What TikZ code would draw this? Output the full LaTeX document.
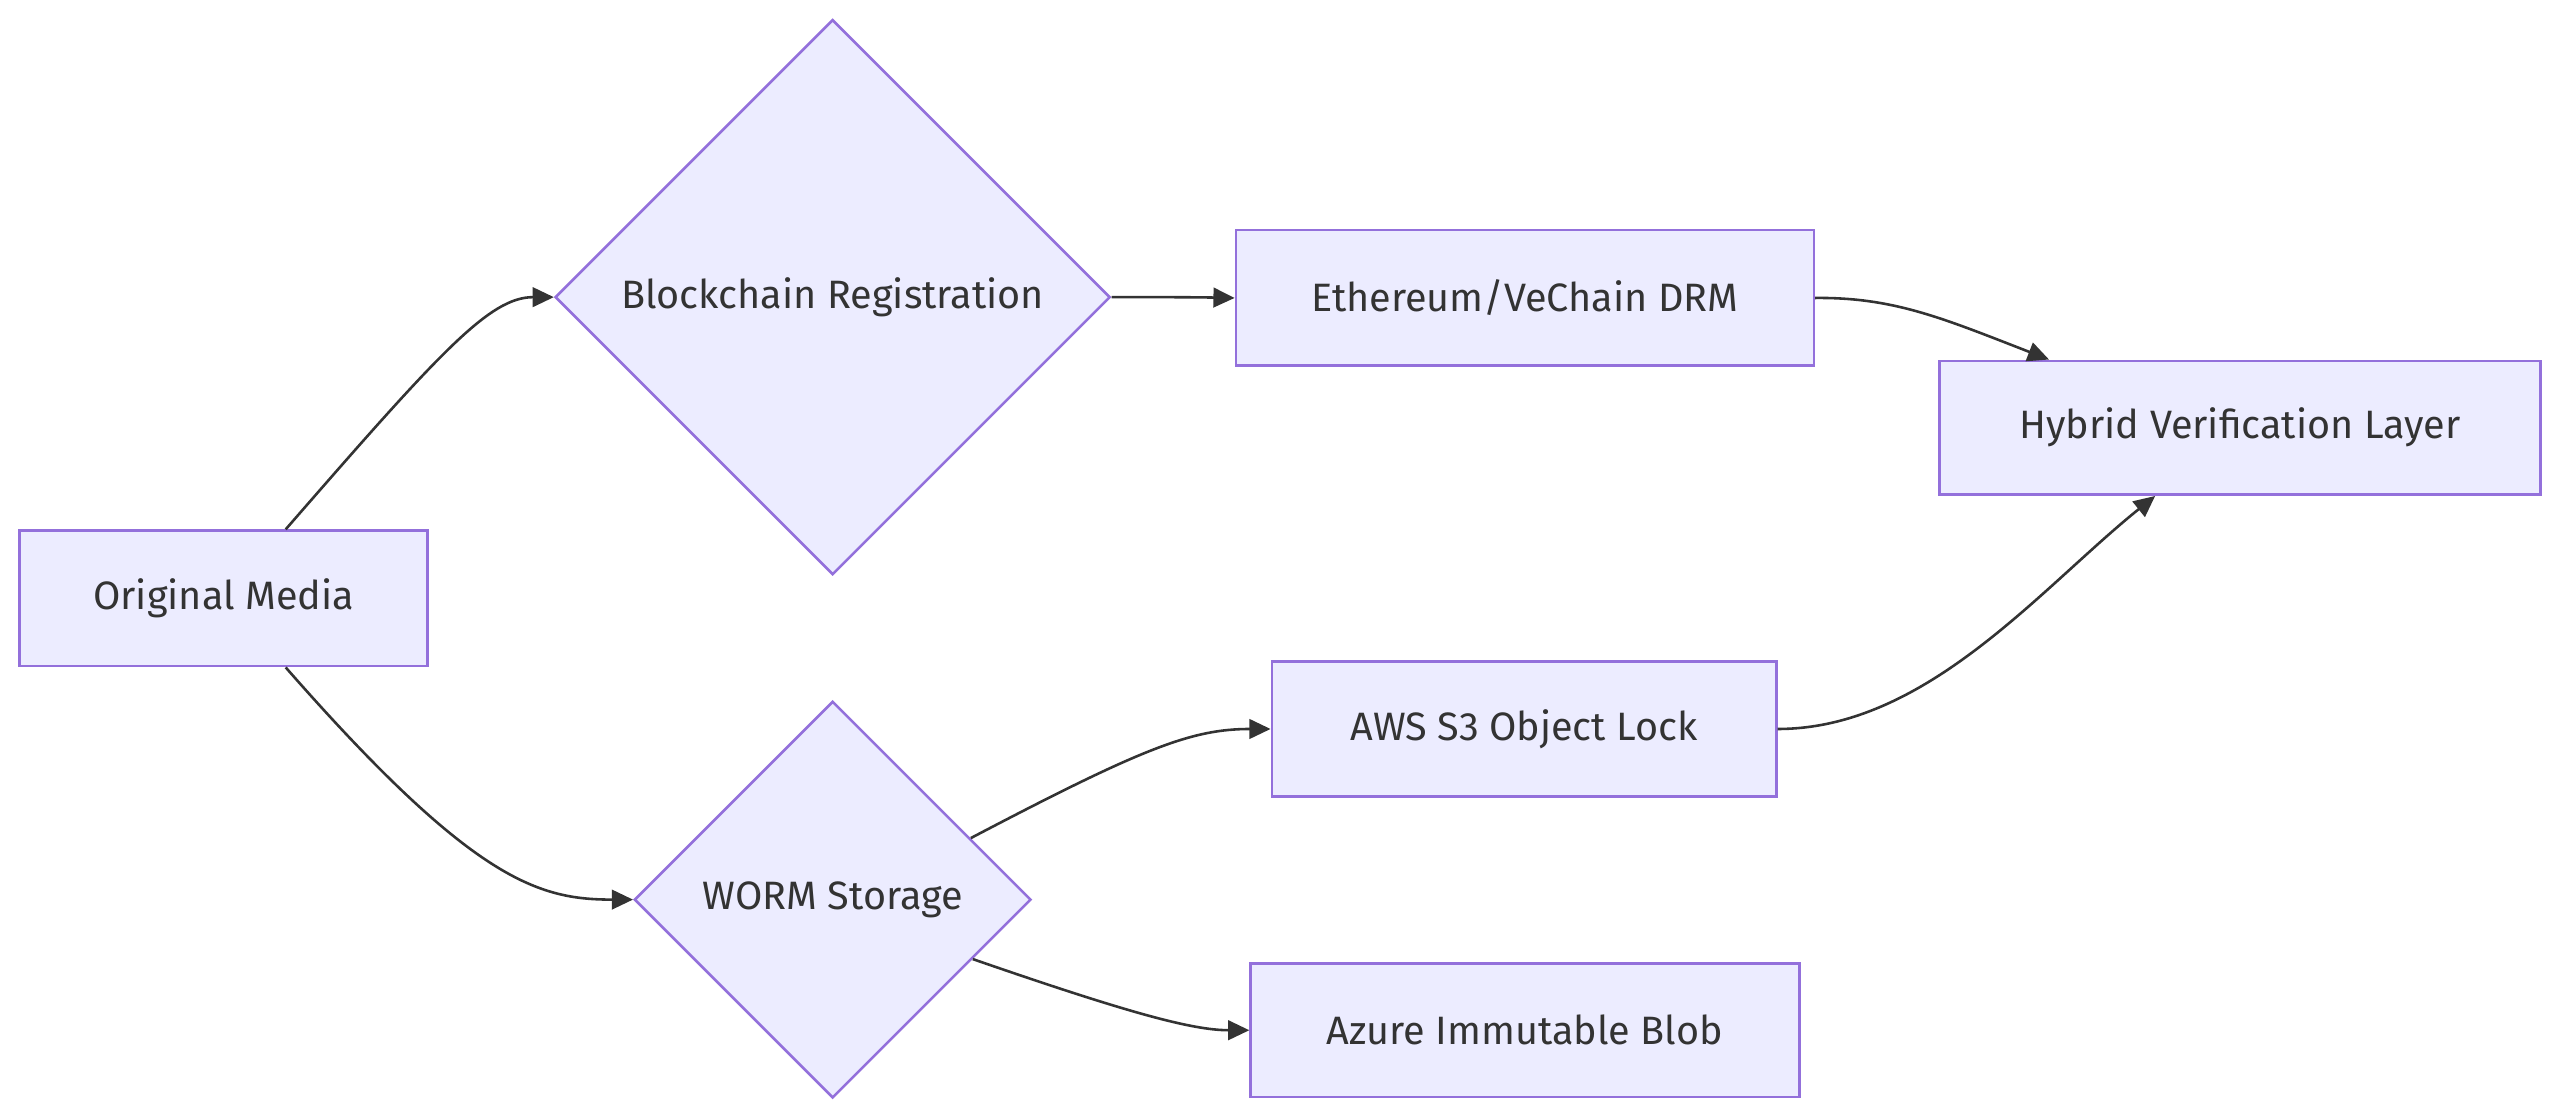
\documentclass[tikz,border=0pt]{standalone}
\usepackage{fontspec}
\setmainfont{Fira Sans}
\usetikzlibrary{shapes.geometric, arrows.meta}
\definecolor{boxfill}{HTML}{ECECFF}
\definecolor{boxline}{HTML}{9370DB}
\definecolor{ink}{HTML}{333333}
\begin{document}
\begin{tikzpicture}[
            box/.style = {rectangle, draw=boxline, fill=boxfill, line width=0.45pt, text=ink, font=\fontsize{6.9}{8}\selectfont, inner sep=0pt},
            choice/.style = {diamond, draw=boxline, fill=boxfill, line width=0.45pt, text=ink, font=\fontsize{6.9}{8}\selectfont, inner sep=0pt, aspect=1},
            link/.style = {draw=ink, line width=0.45pt, -{Triangle[length=0.13cm, width=0.12cm]}},
        ]
            \useasboundingbox (0,0) rectangle (15.68,-6.846);

            % Sources and decisions
            \node[box, minimum width=2.5cm, minimum height=0.83cm] (media) at (1.37,-3.665) {Original Media};
            \node[choice, minimum width=3.4cm, minimum height=3.4cm] (chain) at (5.10,-1.82) {Blockchain Registration};
            \node[choice, minimum width=2.43cm, minimum height=2.43cm] (worm) at (5.10,-5.51) {WORM Storage};

            % Targets
            \node[box, minimum width=3.54cm, minimum height=0.83cm] (eth) at (9.34,-1.825) {Ethereum/VeChain DRM};
            \node[box, minimum width=3.09cm, minimum height=0.83cm] (aws) at (9.335,-4.465) {AWS S3 Object Lock};
            \node[box, minimum width=3.36cm, minimum height=0.82cm] (azure) at (9.34,-6.31) {Azure Immutable Blob};
            \node[box, minimum width=3.68cm, minimum height=0.82cm] (hybrid) at (13.72,-2.62) {Hybrid Verification Layer};

            % Connections
            \draw[link] ([xshift=0.38cm]media.north) .. controls (2.70,-2.15) and (3.00,-1.82) .. (chain.west);
            \draw[link] ([xshift=0.38cm]media.south) .. controls (2.90,-5.40) and (3.30,-5.51) .. (worm.west);
            \draw[link] (chain.east) .. controls (7.10,-1.82) and (7.30,-1.82) .. (eth.west);
            \draw[link] (eth.east) .. controls (11.60,-1.82) and (11.90,-1.95) .. ([xshift=-1.17cm]hybrid.north);
            \draw[link] (worm.24) .. controls (7.00,-4.58) and (7.30,-4.465) .. (aws.west);
            \draw[link] (worm.-23) .. controls (6.90,-6.20) and (7.30,-6.31) .. (azure.west);
            \draw[link] (aws.east) .. controls (11.80,-4.465) and (12.50,-3.60) .. ([xshift=-0.52cm]hybrid.south);

        \end{tikzpicture}
\end{document}
